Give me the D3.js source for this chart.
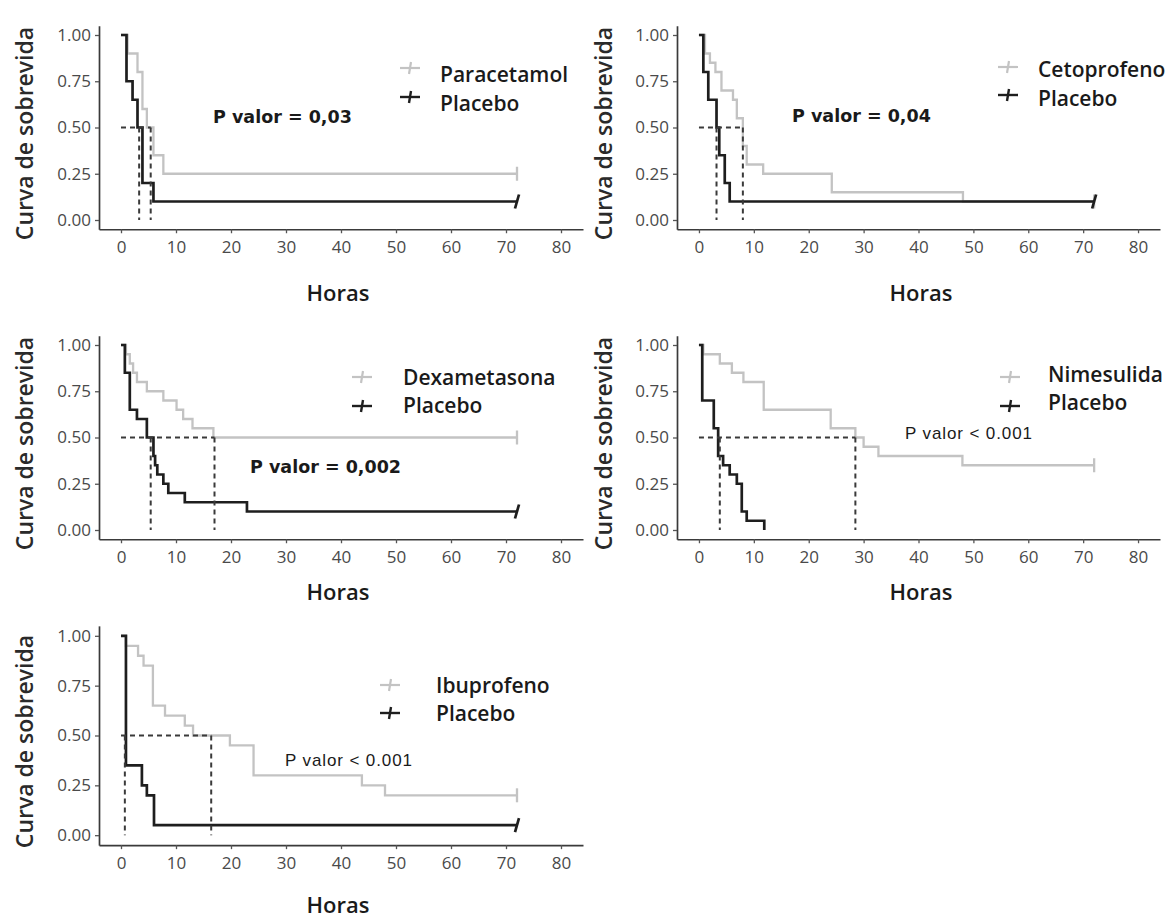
<!DOCTYPE html>
<html><head><meta charset="utf-8">
<script src="https://cdn.jsdelivr.net/npm/d3@7"></script>
<style>body{margin:0;background:#fff}svg{display:block}</style>
</head><body><svg id="c" width="1176" height="921"></svg>
<script>
// ---------- data ----------
const xTicks = [0, 10, 20, 30, 40, 50, 60, 70, 80];
const yTicks = [0, 0.25, 0.5, 0.75, 1];
const yTickLabels = ["0.00", "0.25", "0.50", "0.75", "1.00"];
const treatmentNames = ["Paracetamol", "Cetoprofeno", "Dexametasona", "Nimesulida", "Ibuprofeno"];
const placeboName = "Placebo";
const pValueLabels = ["P valor = 0,03", "P valor = 0,04", "P valor = 0,002", "P valor < 0.001", "P valor < 0.001"];
const xTitle = "Horas";
const yTitle = "Curva de sobrevida";

// Paracetamol vs Placebo
const paraTime = [0, 1.2, 3.0, 3.9, 4.7, 5.9, 7.7, 72];
const paraSurv = [1, 0.9, 0.8, 0.6, 0.5, 0.35, 0.25, 0.25];
const paraPlacTime = [0, 1.0, 2.1, 3.0, 3.9, 5.9, 72];
const paraPlacSurv = [1, 0.75, 0.65, 0.5, 0.2, 0.1, 0.1];
const paraMedians = [3.3, 5.4];

// Cetoprofeno vs Placebo
const cetoTime = [0, 1.1, 2.0, 3.0, 4.1, 6.2, 6.9, 8.0, 8.7, 11.7, 24.2, 48.1, 72];
const cetoSurv = [1, 0.9, 0.85, 0.8, 0.7, 0.65, 0.55, 0.4, 0.3, 0.25, 0.15, 0.1, 0.1];
const cetoPlacTime = [0, 0.8, 1.7, 3.2, 3.7, 4.7, 5.6, 72];
const cetoPlacSurv = [1, 0.8, 0.65, 0.5, 0.35, 0.2, 0.1, 0.1];
const cetoMedians = [3.2, 8.0];

// Dexametasona vs Placebo
const dexaTime = [0, 0.9, 1.6, 2.2, 2.9, 4.7, 7.7, 10.1, 11.3, 13.0, 16.8, 72];
const dexaSurv = [1, 0.95, 0.9, 0.85, 0.8, 0.75, 0.7, 0.65, 0.6, 0.55, 0.5, 0.5];
const dexaPlacTime = [0, 0.7, 1.6, 2.9, 4.7, 5.9, 6.2, 6.6, 7.7, 8.6, 11.6, 22.9, 72];
const dexaPlacSurv = [1, 0.85, 0.65, 0.6, 0.5, 0.4, 0.35, 0.3, 0.25, 0.2, 0.15, 0.1, 0.1];
const dexaMedians = [5.4, 17.0];

// Nimesulida vs Placebo
const nimeTime = [0, 0.8, 3.8, 6.0, 8.1, 11.8, 24.0, 28.5, 30.0, 32.7, 48.0, 72];
const nimeSurv = [1, 0.95, 0.9, 0.85, 0.8, 0.65, 0.55, 0.5, 0.45, 0.4, 0.35, 0.35];
const nimePlacTime = [0, 0.6, 2.7, 3.5, 4.4, 5.6, 6.9, 7.8, 8.7, 11.9];
const nimePlacSurv = [1, 0.7, 0.55, 0.4, 0.35, 0.3, 0.25, 0.1, 0.05, 0];
const nimeMedians = [3.8, 28.5];

// Ibuprofeno vs Placebo
const ibupTime = [0, 0.9, 3.1, 4.1, 5.8, 8.0, 11.6, 13.1, 19.8, 24.1, 43.8, 48.0, 72];
const ibupSurv = [1, 0.95, 0.9, 0.85, 0.65, 0.6, 0.55, 0.5, 0.45, 0.3, 0.25, 0.2, 0.2];
const ibupPlacTime = [0, 0.9, 3.8, 4.7, 6.0, 72];
const ibupPlacSurv = [1, 0.35, 0.25, 0.2, 0.05, 0.05];
const ibupMedians = [0.7, 16.4];

// ---------- layout ----------
const COLS = [{x0: 99, x1: 583, yTitleX: 33, xTitleX: 338},
              {x0: 677, x1: 1160, yTitleX: 612, xTitleX: 921}];
const ROWS = [{y0: 229.25, y1: 25.75, xTitleY: 301},
              {y0: 539.25, y1: 335.75, xTitleY: 600},
              {y0: 845.15, y1: 625.85, xTitleY: 913}];

const panels = [
  {col: 0, row: 0, drug: [paraTime, paraSurv], plac: [paraPlacTime, paraPlacSurv], med: paraMedians,
   name: treatmentNames[0], p: pValueLabels[0], pBold: true, pX: 213, pY: 123,
   leg: {sx: 410, gy: 68, by: 97, tx: 440, gb: 82, bb: 111}},
  {col: 1, row: 0, drug: [cetoTime, cetoSurv], plac: [cetoPlacTime, cetoPlacSurv], med: cetoMedians,
   name: treatmentNames[1], p: pValueLabels[1], pBold: true, pX: 792, pY: 122,
   leg: {sx: 1008, gy: 67, by: 95, tx: 1038, gb: 77, bb: 106}},
  {col: 0, row: 1, drug: [dexaTime, dexaSurv], plac: [dexaPlacTime, dexaPlacSurv], med: dexaMedians,
   name: treatmentNames[2], p: pValueLabels[2], pBold: true, pX: 250, pY: 473,
   leg: {sx: 362, gy: 377, by: 406, tx: 403, gb: 385, bb: 413}},
  {col: 1, row: 1, drug: [nimeTime, nimeSurv], plac: [nimePlacTime, nimePlacSurv], med: nimeMedians,
   name: treatmentNames[3], p: pValueLabels[3], pBold: false, pX: 905, pY: 439,
   leg: {sx: 1010, gy: 377, by: 406, tx: 1048, gb: 382, bb: 410}},
  {col: 0, row: 2, drug: [ibupTime, ibupSurv], plac: [ibupPlacTime, ibupPlacSurv], med: ibupMedians,
   name: treatmentNames[4], p: pValueLabels[4], pBold: false, pX: 285, pY: 766,
   leg: {sx: 390, gy: 685, by: 713, tx: 436, gb: 693, bb: 721}}
];

const GRAY = "#c3c3c3", BLACK = "#1e1e1e", AXIS = "#3a3a3a", DASH = "#3a3a3a";
const svg = d3.select("#c");
svg.append("rect").attr("width", 1176).attr("height", 921).attr("fill", "#fff");

function toPts(ts, ss) { return ts.map((t, i) => [t, ss[i]]); }

panels.forEach(pn => {
  const C = COLS[pn.col], R = ROWS[pn.row];
  const x = d3.scaleLinear().domain([-4, 84]).range([C.x0, C.x1]);
  const y = d3.scaleLinear().domain([-0.05, 1.05]).range([R.y0, R.y1]);
  const g = svg.append("g");

  // axes
  const xAxis = d3.axisBottom(x).tickValues(xTicks).tickSize(4).tickPadding(5).tickSizeOuter(0);
  const yAxis = d3.axisLeft(y).tickValues(yTicks).tickSize(4).tickPadding(4).tickSizeOuter(0)
    .tickFormat((d, i) => yTickLabels[i]);
  const gx = g.append("g").attr("transform", `translate(0,${R.y0})`).call(xAxis);
  const gy = g.append("g").attr("transform", `translate(${C.x0},0)`).call(yAxis);
  [gx, gy].forEach(a => {
    a.select(".domain").attr("stroke", AXIS).attr("stroke-width", 1.7);
    a.selectAll(".tick line").attr("stroke", "#555").attr("stroke-width", 1.3);
    a.selectAll(".tick text").attr("fill", "#4a4a4a").style("font-family", "'Open Sans'").style("font-size", "17px");
  });
  gx.selectAll(".tick text").attr("dy", "0.85em");

  // titles
  g.append("text").attr("x", C.xTitleX).attr("y", R.xTitleY).attr("text-anchor", "middle")
    .style("font-family", "'Open Sans'").style("font-weight", 600).style("font-size", "22px")
    .attr("fill", "#1a1a1a").text(xTitle);
  const cy = (R.y0 + R.y1) / 2 + 6;
  g.append("text").attr("transform", `translate(${C.yTitleX},${cy}) rotate(-90)`).attr("text-anchor", "middle")
    .style("font-family", "'Open Sans'").style("font-weight", 600).style("font-size", "23px")
    .attr("fill", "#2a2a2a").text(yTitle);

  // curves
  const line = d3.line().x(d => x(d[0])).y(d => y(d[1])).curve(d3.curveStepAfter);
  const series = [{d: pn.drug, c: GRAY, w: 2.3, slant: 0}, {d: pn.plac, c: BLACK, w: 2.7, slant: 2}];
  series.forEach(s => {
    const pts = toPts(s.d[0], s.d[1]);
    g.append("path").attr("d", line(pts)).attr("fill", "none").attr("stroke", s.c).attr("stroke-width", s.w);
    const last = pts[pts.length - 1];
    if (last[1] > 0) {
      g.append("line").attr("x1", x(last[0]) + s.slant).attr("x2", x(last[0]) - s.slant)
        .attr("y1", y(last[1]) - 7).attr("y2", y(last[1]) + 7)
        .attr("stroke", s.c).attr("stroke-width", s.w);
    }
  });

  // median lines
  const mMax = d3.max(pn.med);
  g.append("line").attr("x1", x(0)).attr("x2", x(mMax)).attr("y1", y(0.5)).attr("y2", y(0.5))
    .attr("stroke", DASH).attr("stroke-width", 2).attr("stroke-dasharray", "5,4");
  pn.med.forEach(m => {
    g.append("line").attr("x1", x(m)).attr("x2", x(m)).attr("y1", y(0.5)).attr("y2", y(0))
      .attr("stroke", DASH).attr("stroke-width", 2).attr("stroke-dasharray", "5,4");
  });

  // p value
  const pt = g.append("text").attr("x", pn.pX).attr("y", pn.pY).attr("fill", "#1a1a1a").text(pn.p);
  if (pn.pBold) pt.style("font-family", "'DejaVu Sans'").style("font-weight", 700).style("font-size", "17.5px");
  else pt.style("font-family", "'Liberation Sans'").style("font-size", "17px").attr("textLength", 127);

  // legend
  const L = pn.leg;
  [[L.gy, GRAY, pn.name, L.gb, 2.2], [L.by, BLACK, placeboName, L.bb, 2.4]].forEach(([sy, col, label, base, w]) => {
    g.append("line").attr("x1", L.sx - 10).attr("x2", L.sx + 10).attr("y1", sy).attr("y2", sy)
      .attr("stroke", col).attr("stroke-width", w);
    g.append("line").attr("x1", L.sx + 1).attr("x2", L.sx - 1).attr("y1", sy - 6).attr("y2", sy + 6)
      .attr("stroke", col).attr("stroke-width", w);
    g.append("text").attr("x", L.tx).attr("y", base).attr("fill", "#1a1a1a")
      .style("font-family", "'Open Sans'").style("font-weight", 600).style("font-size", "21px").text(label);
  });
});
</script></body></html>
